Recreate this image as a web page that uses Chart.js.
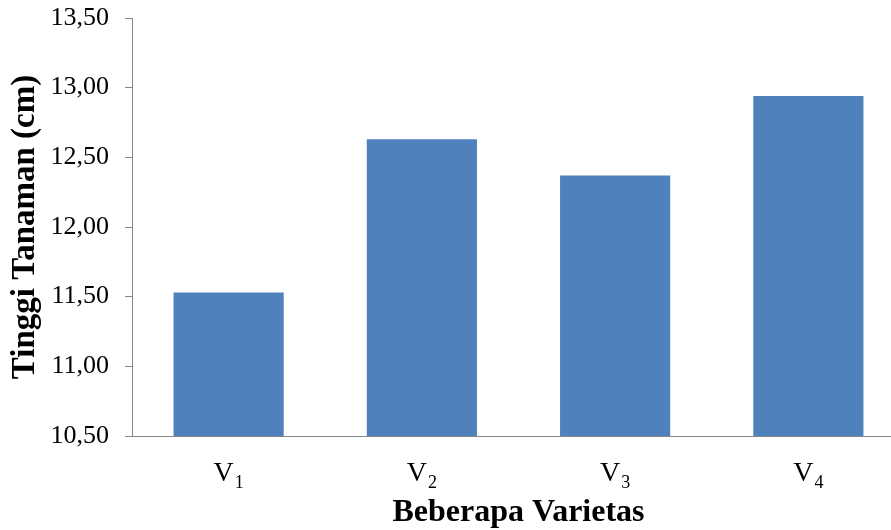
<!DOCTYPE html>
<html>
<head>
<meta charset="utf-8">
<script src="https://cdn.jsdelivr.net/npm/chart.js@4/dist/chart.umd.min.js"></script>
<style>
  html, body { margin: 0; padding: 0; overflow: hidden; background: #fff; }
  #wrap { width: 905px; height: 530px; }
</style>
</head>
<body>
<div id="wrap"><canvas id="grafico"></canvas></div>
<script>
// dados
const varietas = ['V1', 'V2', 'V3', 'V4'];
const tinggi = [11.53, 12.63, 12.37, 12.94];
const eixoY = { min: 10.5, max: 13.5, passo: 0.5 };

const corBarra = '#4F81BD';
const corEixo = '#868686';
const fonte = '"Liberation Serif", "Times New Roman", serif';

// rótulos do eixo x com subscrito (V + índice)
const rotulosSubscrito = {
  id: 'rotulosSubscrito',
  afterDraw(chart) {
    const ctx = chart.ctx;
    const x = chart.scales.x;
    ctx.save();
    ctx.fillStyle = '#000';
    ctx.textBaseline = 'alphabetic';
    ctx.textAlign = 'left';
    varietas.forEach((rotulo, i) => {
      const base = rotulo.charAt(0);
      const sub = rotulo.slice(1);
      ctx.font = '28px ' + fonte;
      const wBase = ctx.measureText(base).width;
      ctx.font = '18px ' + fonte;
      const wSub = ctx.measureText(sub).width;
      const cx = x.getPixelForValue(i);
      const inicio = cx - (wBase + 1 + wSub) / 2;
      ctx.font = '28px ' + fonte;
      ctx.fillText(base, inicio, 481);
      ctx.font = '18px ' + fonte;
      ctx.fillText(sub, inicio + wBase + 1, 488);
    });
    ctx.restore();
  }
};

new Chart(document.getElementById('grafico'), {
  type: 'bar',
  data: {
    labels: varietas,
    datasets: [{
      label: 'Tinggi Tanaman',
      data: tinggi,
      backgroundColor: corBarra,
      borderWidth: 0,
      categoryPercentage: 1,
      barPercentage: 0.57
    }]
  },
  options: {
    responsive: true,
    maintainAspectRatio: false,
    animation: false,
    layout: { padding: { top: 18, left: 0, right: 0, bottom: 0 } },
    plugins: {
      legend: { display: false },
      tooltip: { enabled: false }
    },
    scales: {
      x: {
        grid: { display: false, drawTicks: false },
        border: { display: true, color: corEixo, width: 1 },
        ticks: { display: false },
        title: {
          display: true,
          text: 'Beberapa Varietas',
          color: '#000',
          font: { family: fonte, size: 32, weight: 'bold', lineHeight: 1.1 },
          padding: { top: 0, bottom: 0 }
        },
        afterFit(scale) { scale.height = 94; }
      },
      y: {
        min: eixoY.min,
        max: eixoY.max,
        grid: { drawOnChartArea: false, drawTicks: true, tickLength: 7, color: corEixo },
        border: { display: true, color: corEixo, width: 1 },
        ticks: {
          stepSize: eixoY.passo,
          padding: 16,
          color: '#000',
          font: { family: fonte, size: 26 },
          callback: (v) => v.toFixed(2).replace('.', ',')
        },
        title: {
          display: true,
          text: 'Tinggi Tanaman (cm)',
          color: '#000',
          font: { family: fonte, size: 33, weight: 'bold', lineHeight: 1.2 },
          padding: { top: 6, bottom: 0 }
        },
        afterFit(scale) {
          scale.width = 132;
          scale.paddingTop = 0;
          scale.paddingBottom = 0;
        }
      }
    }
  },
  plugins: [rotulosSubscrito]
});
</script>
</body>
</html>
